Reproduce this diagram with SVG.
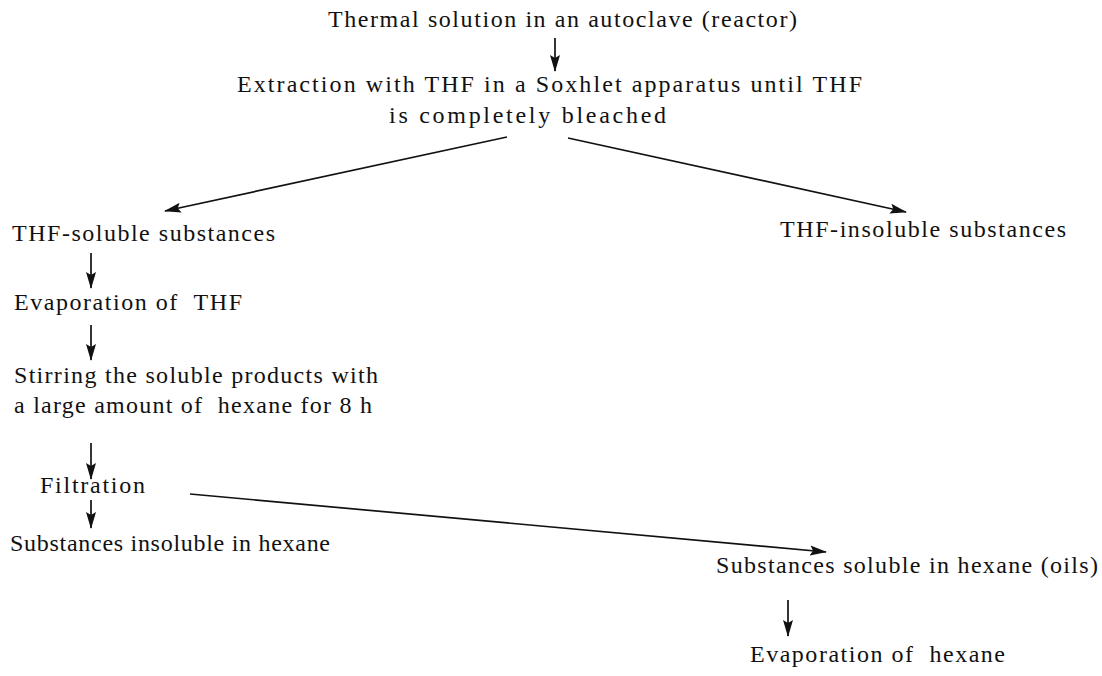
<svg xmlns="http://www.w3.org/2000/svg" width="1102" height="676" viewBox="0 0 1102 676">
<style>
text { font-family: "Liberation Serif", "DejaVu Serif", serif; font-size: 24px; fill: #111; white-space: pre; }
#connectors line { stroke: #111; stroke-width: 1.7; marker-end: url(#ah); }
</style>
<defs>
<marker id="ah" viewBox="0 0 17 11" refX="16" refY="5.5" markerWidth="17" markerHeight="11" markerUnits="userSpaceOnUse" orient="auto">
<path d="M0,0.5 L17,5.5 L0,10.5 L3,5.5 z" fill="#111"/>
</marker>
</defs>
<rect width="1102" height="676" fill="#fff"/>
<g id="n1"><text x="328" y="27" textLength="469">Thermal solution in an autoclave (reactor)</text></g>
<g id="n2"><text x="237" y="92" textLength="625">Extraction with THF in a Soxhlet apparatus until THF</text><text x="389" y="123" textLength="277">is completely bleached</text></g>
<g id="n3"><text x="12" y="241" textLength="263">THF-soluble substances</text></g>
<g id="n4"><text x="780" y="237" textLength="286">THF-insoluble substances</text></g>
<g id="n5"><text x="14" y="310" textLength="228">Evaporation of  THF</text></g>
<g id="n6"><text x="14" y="383" textLength="364">Stirring the soluble products with</text><text x="14" y="413" textLength="358">a large amount of  hexane for 8 h</text></g>
<g id="n7"><text x="40" y="493" textLength="105">Filtration</text></g>
<g id="n8"><text x="10" y="551" textLength="320">Substances insoluble in hexane</text></g>
<g id="n9"><text x="716" y="573" textLength="382">Substances soluble in hexane (oils)</text></g>
<g id="n10"><text x="750" y="662" textLength="255">Evaporation of  hexane</text></g>
<g id="connectors">
<line x1="555" y1="38" x2="555" y2="71"/>
<line x1="507" y1="137" x2="165" y2="211"/>
<line x1="568" y1="138" x2="906" y2="212"/>
<line x1="91" y1="253" x2="91" y2="288"/>
<line x1="91" y1="325" x2="91" y2="360"/>
<line x1="91" y1="443" x2="91" y2="479"/>
<line x1="91" y1="500" x2="91" y2="528"/>
<line x1="190" y1="494" x2="826" y2="552"/>
<line x1="788" y1="600" x2="788" y2="636"/>
</g>
</svg>
